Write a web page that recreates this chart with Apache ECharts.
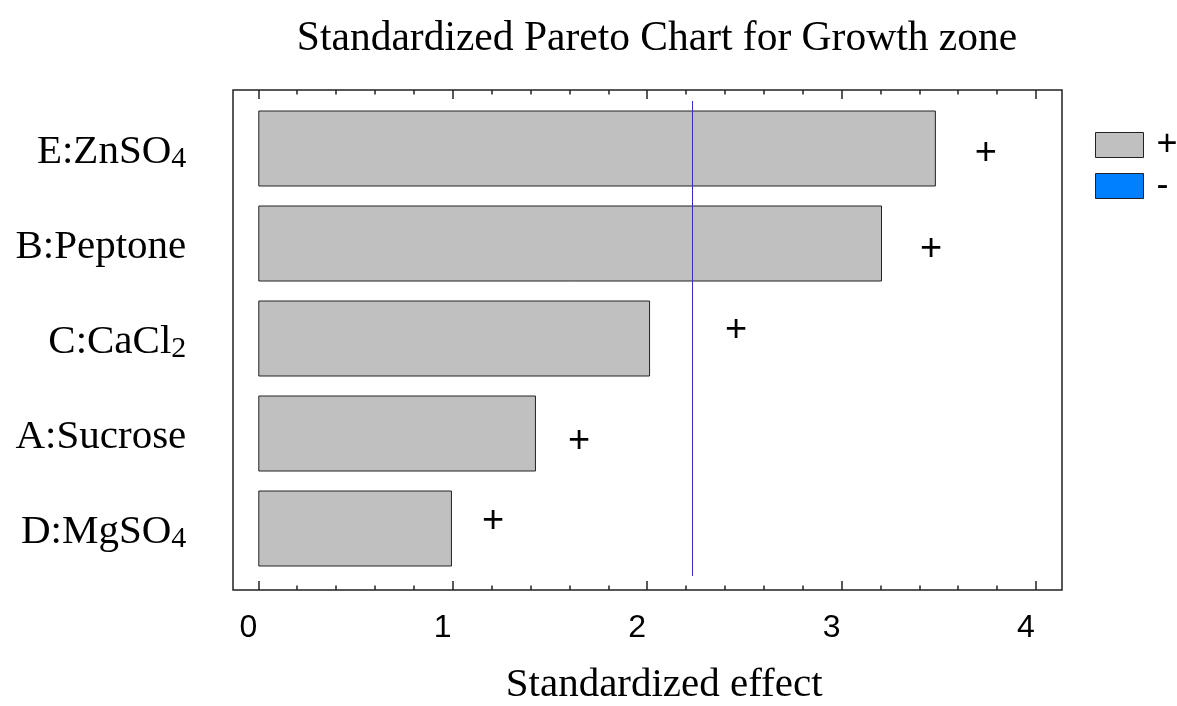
<!DOCTYPE html>
<html>
<head>
<meta charset="utf-8">
<title>Standardized Pareto Chart for Growth zone</title>
<script src="https://cdn.jsdelivr.net/npm/echarts@6/dist/echarts.min.js"></script>
<style>
  html, body { margin: 0; padding: 0; background: #fff; }
  #chart { width: 1177px; height: 706px; }
</style>
</head>
<body>
<div id="chart"></div>
<script>
// Factors, top to bottom (trailing digit is drawn as a subscript)
const factors = ['E:ZnSO4', 'B:Peptone', 'C:CaCl2', 'A:Sucrose', 'D:MgSO4'];
// Standardized effects (all positive)
const effects = [3.485, 3.208, 2.015, 1.428, 0.996];
// Sign of each effect
const signs = ['+', '+', '+', '+', '+'];
// Critical t value for the reference line
const criticalT = 2.228;
// Effect axis ticks
const xTicks = [0, 1, 2, 3, 4];

// Small nudges for the sign markers next to each bar: [dx, dy] in px
const signNudge = [[39, 5], [38, 6], [75, -8], [32, 8], [30, -7]];

const serif = '"Liberation Serif", "Times New Roman", serif';
const sans = '"Liberation Sans", Arial, Helvetica, sans-serif';

function factorLabel(name) {
  const m = name.match(/^(.*?)(\d+)$/);
  return m ? '{main|' + m[1] + '}{sub|' + m[2] + '}' : '{main|' + name + '}';
}

const chart = echarts.init(document.getElementById('chart'), null, { renderer: 'canvas' });

const xMin = xTicks[0];
const xMax = xTicks[xTicks.length - 1];

const tickCommon = {
  show: true, inside: true, length: 9,
  lineStyle: { color: '#222', width: 1.5 }
};
const minorCommon = {
  show: true, splitNumber: 5, length: 4.5,
  lineStyle: { color: '#222', width: 1.5 }
};

chart.setOption({
  animation: false,
  backgroundColor: '#ffffff',
  title: {
    text: 'Standardized Pareto Chart for Growth zone',
    left: 652,
    top: 13,
    textAlign: 'center',
    textStyle: { fontFamily: serif, fontSize: 41.5, fontWeight: 'normal', color: '#000' }
  },
  legend: {
    orient: 'vertical',
    left: 1090,
    top: 122,
    itemWidth: 48,
    itemHeight: 25,
    itemGap: 5,
    icon: 'rect',
    data: ['+', '-'],
    textStyle: { fontFamily: sans, fontSize: 36, color: '#000', padding: [0, 0, 0, 8] },
    itemStyle: { borderColor: '#222', borderWidth: 1 }
  },
  grid: [
    // plotting grid holding the bars
    { left: 258.3, right: 141, top: 101, height: 475, containLabel: false, outerBoundsMode: 'none' },
    // outer frame
    { left: 233, right: 115, top: 90, bottom: 116, show: true, outerBoundsMode: 'none',
      borderColor: '#222', borderWidth: 1.5, backgroundColor: 'transparent' }
  ],
  xAxis: [
    {
      gridIndex: 0, type: 'value', position: 'bottom', offset: 14,
      min: xMin, max: xMax, interval: 1,
      axisLine: { show: false },
      axisTick: tickCommon,
      minorTick: minorCommon,
      splitLine: { show: false },
      axisLabel: {
        fontFamily: sans, fontSize: 32, color: '#000', margin: 22,
        padding: [0, 20, 0, 0]
      },
      name: 'Standardized effect',
      nameLocation: 'middle',
      nameGap: 75,
      nameTextStyle: { fontFamily: serif, fontSize: 41, color: '#000', padding: [0, 0, 0, 34] }
    },
    {
      gridIndex: 0, type: 'value', position: 'top', offset: 11,
      min: xMin, max: xMax, interval: 1,
      axisLine: { show: false },
      axisTick: tickCommon,
      minorTick: minorCommon,
      splitLine: { show: false },
      axisLabel: { show: false }
    },
    { gridIndex: 1, type: 'value', show: false, min: 0, max: 1 }
  ],
  yAxis: [
    {
      gridIndex: 0, type: 'category', inverse: true,
      data: factors,
      axisLine: { show: false },
      axisTick: { show: false },
      splitLine: { show: false },
      axisLabel: {
        margin: 72,
        padding: [8, 0, 0, 0],
        formatter: factorLabel,
        rich: {
          main: { fontFamily: serif, fontSize: 41, color: '#000', lineHeight: 44, verticalAlign: 'middle' },
          sub: { fontFamily: serif, fontSize: 30, color: '#000', lineHeight: 26, verticalAlign: 'bottom' }
        }
      }
    },
    { gridIndex: 1, type: 'value', show: false, min: 0, max: 1 }
  ],
  series: [
    {
      name: '+',
      type: 'bar',
      xAxisIndex: 0,
      yAxisIndex: 0,
      stack: 'effect',
      barWidth: '80%',
      itemStyle: { color: '#c0c0c0', borderColor: '#222', borderWidth: 1 },
      data: effects.map((v, i) => ({
        value: v,
        label: {
          show: true,
          position: 'right',
          distance: 0,
          formatter: signs[i],
          offset: signNudge[i],
          fontFamily: sans,
          fontSize: 38,
          color: '#000'
        }
      })),
      markLine: {
        silent: true,
        symbol: ['none', 'none'],
        label: { show: false },
        lineStyle: { color: '#3030c8', width: 1, type: 'solid' },
        data: [{ xAxis: criticalT }]
      }
    },
    {
      name: '-',
      type: 'bar',
      xAxisIndex: 0,
      yAxisIndex: 0,
      stack: 'effect',
      itemStyle: { color: '#0080ff', borderColor: '#222', borderWidth: 1 },
      data: []
    }
  ]
});
</script>
</body>
</html>
